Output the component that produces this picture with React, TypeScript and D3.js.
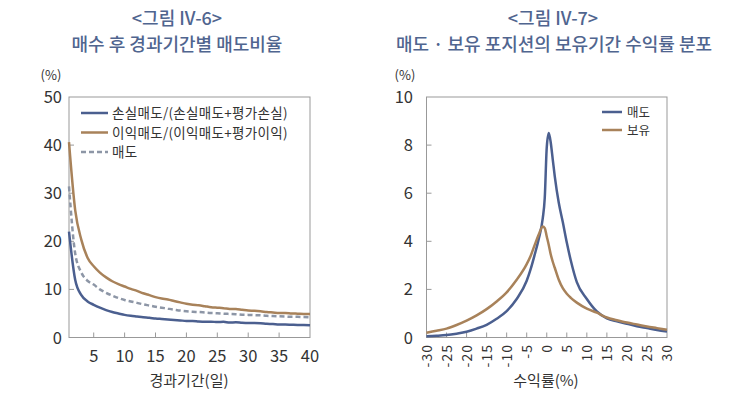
import React from 'react';
import * as d3 from 'd3';

// 그림 IV-6: 매수 후 경과기간별 매도비율 (%)
const days = d3.range(1, 41);
const lossSell = [
  22.0, 12.0, 8.8, 7.5, 6.8, 6.2, 5.7, 5.3, 5.0, 4.7,
  4.5, 4.35, 4.2, 4.1, 3.95, 3.85, 3.75, 3.65, 3.55, 3.45,
  3.45, 3.35, 3.3, 3.3, 3.2, 3.25, 3.1, 3.15, 3.05, 3.0,
  3.0, 2.95, 2.85, 2.8, 2.7, 2.7, 2.65, 2.6, 2.6, 2.55,
];
const gainSell = [
  40.6, 26.5, 20.3, 16.6, 14.8, 13.5, 12.5, 11.7, 11.1, 10.6,
  10.1, 9.7, 9.2, 8.8, 8.4, 8.1, 7.9, 7.6, 7.3, 7.0,
  6.8, 6.7, 6.5, 6.3, 6.2, 6.1, 5.95, 5.9, 5.75, 5.6,
  5.55, 5.45, 5.3, 5.2, 5.1, 5.1, 5.0, 4.95, 4.9, 4.9,
];
const allSell = [
  31.4, 17.5, 13.5, 11.8, 11.0, 10.0, 9.3, 8.7, 8.2, 7.8,
  7.5, 7.2, 6.9, 6.65, 6.4, 6.2, 6.0, 5.8, 5.6, 5.45,
  5.35, 5.3, 5.2, 5.1, 5.05, 4.95, 4.9, 4.85, 4.75, 4.7,
  4.65, 4.6, 4.5, 4.45, 4.4, 4.35, 4.3, 4.3, 4.25, 4.2,
];
const leftLegend = ['손실매도/(손실매도+평가손실)', '이익매도/(이익매도+평가이익)', '매도'];
const leftXTicks = [5, 10, 15, 20, 25, 30, 35, 40];
const leftYTicks = [0, 10, 20, 30, 40, 50];

// 그림 IV-7: 매도·보유 포지션의 보유기간 수익률 분포 (%)
const returns = [
  -30, -27.5, -25, -22.5, -20, -17.5, -15, -12.5, -10, -7.5, -5, -4, -3, -2, -1, -0.5,
  0, 0.5, 1, 1.5, 2, 3, 4, 5, 6, 7.5, 10, 12.5, 15, 17.5, 20, 22.5, 25, 27.5, 30,
];
const sellDist = [
  0.05, 0.07, 0.1, 0.16, 0.24, 0.37, 0.53, 0.78, 1.1, 1.6, 2.36, 2.85, 3.45, 4.1, 4.95, 5.8,
  7.9, 8.5, 8.1, 7.4, 6.7, 5.6, 4.8, 3.95, 3.2, 2.3, 1.6, 1.08, 0.8, 0.67, 0.57, 0.47, 0.39, 0.31, 0.25,
];
const holdDist = [
  0.2, 0.28, 0.37, 0.52, 0.7, 0.92, 1.18, 1.5, 1.88, 2.4, 3.05, 3.4, 3.85, 4.28, 4.62, 4.55,
  4.2, 3.85, 3.45, 3.15, 2.9, 2.4, 2.05, 1.82, 1.65, 1.45, 1.2, 1.03, 0.83, 0.72, 0.62, 0.54, 0.46, 0.39, 0.32,
];
const rightLegend = ['매도', '보유'];
const rightXTicks = d3.range(-30, 31, 5);
const rightYTicks = [0, 2, 4, 6, 8, 10];

const BLUE = '#4b5f8f';
const BROWN = '#a8825a';
const GREY = '#8d96a6';
const TITLE = '#50658f';
const TEXT = '#333';
const FRAME = '#999';
const FONT = '"Noto Sans CJK KR", "Noto Sans", sans-serif';

export default function App() {
  // left panel
  const lx = d3.scaleLinear().domain([1, 40]).range([69, 310]);
  const ly = d3.scaleLinear().domain([0, 50]).range([337.5, 97]);
  const leftLine = (vals: number[]) =>
    d3.line<number>().x((_, i) => lx(days[i])).y((d) => ly(d)).curve(d3.curveMonotoneX)(vals) || '';

  // right panel
  const rx = d3.scaleLinear().domain([-30, 30]).range([426.5, 667]);
  const ry = d3.scaleLinear().domain([0, 10]).range([337.5, 97]);
  const rightLine = (vals: number[]) =>
    d3.line<number>().x((_, i) => rx(returns[i])).y((d) => ry(d)).curve(d3.curveMonotoneX)(vals) || '';

  const leftSeries = [
    { vals: lossSell, color: BLUE, dash: undefined },
    { vals: gainSell, color: BROWN, dash: undefined },
    { vals: allSell, color: GREY, dash: '5,3' },
  ];
  const rightSeries = [
    { vals: sellDist, color: BLUE },
    { vals: holdDist, color: BROWN },
  ];

  return (
    <svg width={752} height={395} style={{ position: 'absolute', left: 0, top: 0, background: '#fff' }} fontFamily={FONT}>
      {/* titles */}
      <g fill={TITLE} fontSize={18} fontWeight={500} textAnchor="middle">
        <text x={177} y={24.5}>{'<그림 IV-6>'}</text>
        <text x={177} y={51}>매수 후 경과기간별 매도비율</text>
        <text x={553} y={24.5}>{'<그림 IV-7>'}</text>
        <text x={554} y={51}>매도 · 보유 포지션의 보유기간 수익률 분포</text>
      </g>

      {/* left chart */}
      <text x={51} y={79.5} fontSize={13} fill={TEXT} textAnchor="middle">(%)</text>
      <rect x={lx(1)} y={ly(50)} width={lx(40) - lx(1)} height={ly(0) - ly(50)} fill="none" stroke={FRAME} strokeWidth={1} />
      {leftYTicks.map((t) => (
        <g key={'ly' + t}>
          {t > 0 && t < 50 && <line x1={lx(1)} x2={lx(1) + 5} y1={ly(t)} y2={ly(t)} stroke={FRAME} />}
          <text x={62} y={ly(t) + 6} fontSize={16.5} fill={TEXT} textAnchor="end">{t}</text>
        </g>
      ))}
      {leftXTicks.map((t) => (
        <g key={'lx' + t}>
          {t < 40 && <line x1={lx(t)} x2={lx(t)} y1={ly(0)} y2={ly(0) - 5} stroke={FRAME} />}
          <text x={lx(t)} y={362} fontSize={16.5} fill={TEXT} textAnchor="middle">{t}</text>
        </g>
      ))}
      <text x={189} y={386} fontSize={15} fill={TEXT} textAnchor="middle">경과기간(일)</text>
      {leftSeries.map((s, i) => (
        <path key={'ls' + i} d={leftLine(s.vals)} fill="none" stroke={s.color} strokeWidth={2.5} strokeDasharray={s.dash} />
      ))}
      {leftLegend.map((name, i) => (
        <g key={'ll' + i} transform={`translate(81, ${113 + i * 19.5})`}>
          <line x1={0} x2={27} y1={0} y2={0} stroke={leftSeries[i].color} strokeWidth={2.5} strokeDasharray={leftSeries[i].dash} />
          <text x={31} y={5} fontSize={13.5} letterSpacing={0.3} fill={TEXT}>{name}</text>
        </g>
      ))}

      {/* right chart */}
      <text x={405} y={79.5} fontSize={13} fill={TEXT} textAnchor="middle">(%)</text>
      <rect x={rx(-30)} y={ry(10)} width={rx(30) - rx(-30)} height={ry(0) - ry(10)} fill="none" stroke={FRAME} strokeWidth={1} />
      {rightYTicks.map((t) => (
        <g key={'ry' + t}>
          {t > 0 && t < 10 && <line x1={rx(-30)} x2={rx(-30) + 5} y1={ry(t)} y2={ry(t)} stroke={FRAME} />}
          <text x={413} y={ry(t) + 6} fontSize={16.5} fill={TEXT} textAnchor="end">{t}</text>
        </g>
      ))}
      {rightXTicks.map((t) => (
        <g key={'rx' + t}>
          {t > -30 && t < 30 && <line x1={rx(t)} x2={rx(t)} y1={ry(0)} y2={ry(0) - 5} stroke={FRAME} />}
          <text transform={`translate(${rx(t) + 5}, 344) rotate(-90)`} fontSize={14} letterSpacing={1} fill={TEXT} textAnchor="end">{t}</text>
        </g>
      ))}
      <text x={546} y={386} fontSize={15} fill={TEXT} textAnchor="middle">수익률(%)</text>
      {rightSeries.map((s, i) => (
        <path key={'rs' + i} d={rightLine(s.vals)} fill="none" stroke={s.color} strokeWidth={2.5} />
      ))}
      {rightLegend.map((name, i) => (
        <g key={'rl' + i} transform={`translate(602, ${112 + i * 18})`}>
          <line x1={0} x2={20} y1={0} y2={0} stroke={rightSeries[i].color} strokeWidth={2.5} />
          <text x={25} y={4.5} fontSize={12.5} fill={TEXT}>{name}</text>
        </g>
      ))}
    </svg>
  );
}
